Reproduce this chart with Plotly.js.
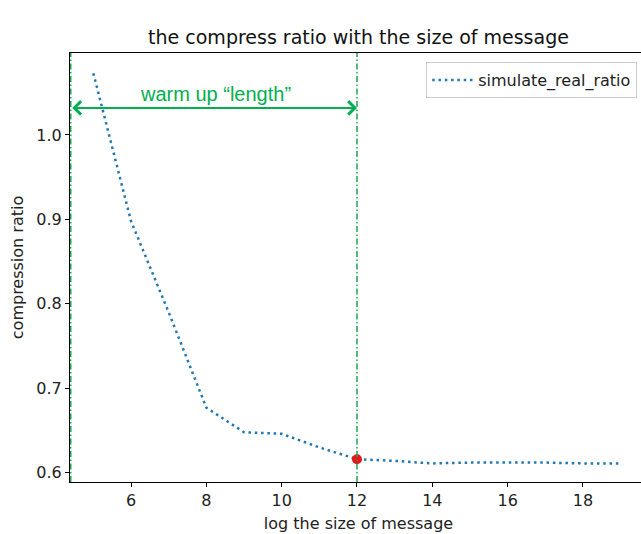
<!DOCTYPE html>
<html>
<head>
<meta charset="utf-8">
<script src="https://cdn.plot.ly/plotly-3.0.1.min.js"></script>
<style>
html, body { margin: 0; padding: 0; overflow: hidden; background: #fff; }
#chart { width: 660px; height: 534px; }
</style>
</head>
<body>
<div id="chart"></div>
<script>
// ---- data ----
const logSize = [5, 6, 7, 8, 9, 10, 11, 12, 13, 14, 15, 16, 17, 18, 19];
const ratio = [1.073, 0.898, 0.790, 0.677, 0.648, 0.646, 0.630, 0.616, 0.614, 0.611, 0.612, 0.612, 0.612, 0.611, 0.611];
const markX = [12];
const markY = [0.616];
const warmupStart = 4.4;
const warmupEnd = 12;
const arrowLevel = 1.032;
const labelX = 8.23;
const labelY = 1.0485;
const xTicks = [6, 8, 10, 12, 14, 16, 18];
const yTicks = [0.6, 0.7, 0.8, 0.9, 1.0];
const seriesName = 'simulate_real_ratio';

const green = '#00b050';
const vgreen = '#1aa84f';
const font = 'DejaVu Sans, sans-serif';

const traces = [
  {
    x: logSize, y: ratio, type: 'scatter', mode: 'lines', name: seriesName,
    line: { color: '#1f77b4', width: 2.5, dash: '2.5px,3.8px' }
  },
  {
    x: markX, y: markY, type: 'scatter', mode: 'markers', showlegend: false,
    marker: { color: '#e8141a', size: 10, line: { width: 0 } }
  }
];

const vline = (xv) => ({
  type: 'line', xref: 'x', yref: 'paper', x0: xv, x1: xv, y0: 0, y1: 1,
  line: { color: vgreen, width: 1.5, dash: '6px,2.5px,1.5px,2.5px' }
});

const layout = {
  width: 660, height: 534,
  margin: { l: 70, r: 13, t: 53, b: 52 },
  paper_bgcolor: '#ffffff', plot_bgcolor: '#ffffff',
  font: { family: font, size: 16, color: '#222' },
  title: {
    text: 'the compress ratio with the size of message',
    font: { family: font, size: 19, color: '#111' },
    x: 0.5, xref: 'paper', xanchor: 'center', y: 1, yref: 'paper', yanchor: 'bottom', pad: { b: 9 }
  },
  xaxis: {
    range: [4.38, 19.7], tickvals: xTicks, ticktext: xTicks.map(String),
    showgrid: false, zeroline: false, showline: true, mirror: true,
    linecolor: '#000', linewidth: 1, ticks: 'outside', ticklen: 4, tickcolor: '#000',
    tickfont: { family: font, size: 16, color: '#222' },
    title: { text: 'log the size of message', font: { family: font, size: 16, color: '#222' }, standoff: 8 }
  },
  yaxis: {
    range: [0.589, 1.097], tickvals: yTicks, ticktext: yTicks.map(v => v.toFixed(1)),
    showgrid: false, zeroline: false, showline: true, mirror: true,
    linecolor: '#000', linewidth: 1, ticks: 'outside', ticklen: 4, tickcolor: '#000',
    tickfont: { family: font, size: 16, color: '#222' },
    title: { text: 'compression ratio', font: { family: font, size: 16, color: '#222' }, standoff: 8 }
  },
  showlegend: true,
  legend: {
    x: 0.983, y: 0.979, xanchor: 'right', yanchor: 'top',
    bgcolor: '#ffffff', bordercolor: '#cccccc', borderwidth: 1, itemwidth: 41,
    font: { family: font, size: 16, color: '#222' }
  },
  shapes: [vline(warmupStart), vline(warmupEnd)],
  annotations: [
    {
      x: warmupEnd, y: arrowLevel, ax: warmupStart, ay: arrowLevel,
      xref: 'x', yref: 'y', axref: 'x', ayref: 'y',
      text: '', showarrow: true, arrowside: 'end+start',
      arrowhead: 4, arrowsize: 1.3, arrowwidth: 2, arrowcolor: green
    },
    {
      x: labelX, y: labelY, xref: 'x', yref: 'y', showarrow: false,
      text: 'warm up \u201clength\u201d',
      font: { family: 'Liberation Sans, Arial, sans-serif', size: 20, color: green }
    }
  ]
};

Plotly.newPlot('chart', traces, layout, { displayModeBar: false, staticPlot: true });
</script>
</body>
</html>
